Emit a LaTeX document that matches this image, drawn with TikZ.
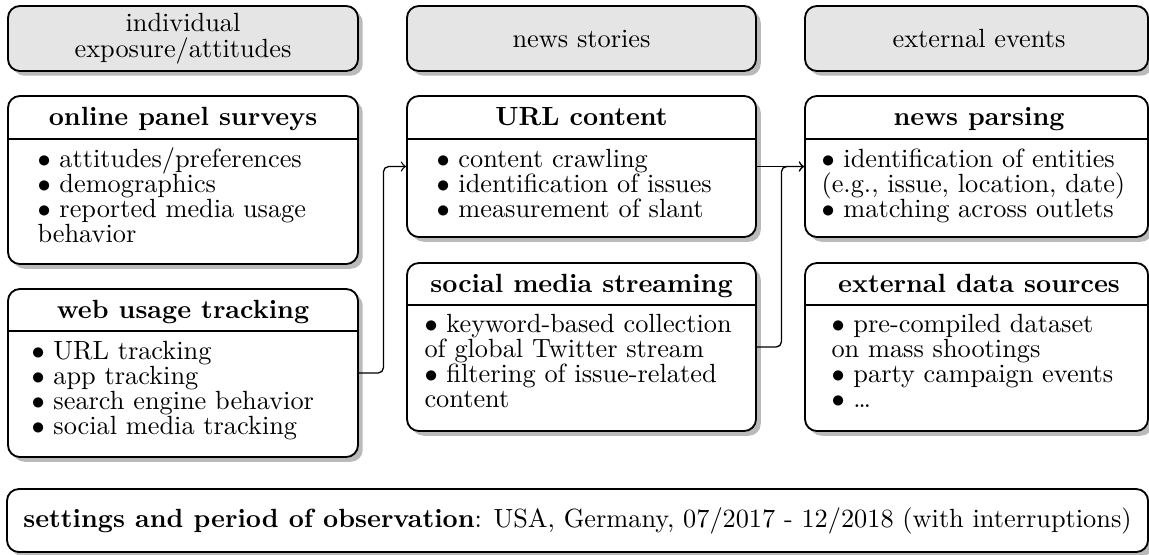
\documentclass[tikz,border=0pt]{standalone}
\usetikzlibrary{shadows,fit}
\begin{document}
\begin{tikzpicture}[x=0.38pt,y=-0.38pt,
  card/.style={draw, line width=0.7pt, rounded corners=4.5pt, fill=white,
    inner sep=0pt,
    drop shadow={shadow xshift=1.8pt, shadow yshift=-1.8pt, fill=black!27, opacity=1}},
  headcard/.style={card, fill=black!10},
  divider/.style={line width=0.6pt},
  headtext/.style={font=\fontsize{10}{9.8}\selectfont, align=center, inner sep=0pt},
  titletext/.style={font=\bfseries\fontsize{10}{10.3}\selectfont, anchor=base, inner sep=0pt},
  bodytext/.style={font=\fontsize{10}{9.5}\selectfont, anchor=base west, inner sep=0pt,
    text width=130pt, align=left},
  conn/.style={->, line width=0.5pt, rounded corners=2pt}]
\useasboundingbox (0,0) rectangle (1149,554);

% column headers
\node[headcard, fit={(8,6) (358,71)}] (h1) {};
\node[headcard, fit={(407,6) (756,71)}] (h2) {};
\node[headcard, fit={(805,6) (1148,71)}] (h3) {};
\node[headtext] (h1t) at (183,39) {individual\\exposure/attitudes};
\node[headtext] (h2t) at (581.5,39) {news stories};
\node[headtext] (h3t) at (979,39) {external events};

% method cards
\node[card, fit={(8,96) (358,264)}] (ops) {};
\node[card, fit={(8,289) (358,457)}] (wut) {};
\node[card, fit={(407,96) (756,237)}] (url) {};
\node[card, fit={(407,263) (756,431)}] (sms) {};
\node[card, fit={(805,96) (1148,237)}] (np) {};
\node[card, fit={(805,263) (1148,431)}] (eds) {};

% title separators
\draw[divider] (8,139) -- (358,139);
\draw[divider] (8,331) -- (358,331);
\draw[divider] (407,139) -- (756,139);
\draw[divider] (407,305) -- (756,305);
\draw[divider] (805,139) -- (1148,139);
\draw[divider] (805,305) -- (1148,305);

% titles
\node[titletext] (opst) at (183,125) {online panel surveys};
\node[titletext] (wutt) at (183,318) {web usage tracking};
\node[titletext] (urlt) at (581.5,125) {URL content};
\node[titletext] (smst) at (581.5,292) {social media streaming};
\node[titletext] (npt) at (979,125) {news parsing};
\node[titletext] (edst) at (979,292) {external data sources};

% card contents
\node[bodytext] (opsb) at (37,167) {$\bullet$ attitudes/preferences\\ $\bullet$ demographics\\ $\bullet$ reported media usage\\ behavior};
\node[bodytext] (wutb) at (31,359) {$\bullet$ URL tracking\\ $\bullet$ app tracking\\ $\bullet$ search engine behavior\\ $\bullet$ social media tracking};
\node[bodytext] (urlb) at (436,167) {$\bullet$ content crawling\\ $\bullet$ identification of issues\\ $\bullet$ measurement of slant};
\node[bodytext] (smsb) at (424,332) {$\bullet$ keyword-based collection\\ of global Twitter stream\\ $\bullet$ filtering of issue-related\\ content};
\node[bodytext] (npb) at (821,167) {$\bullet$ identification of entities\\ (e.g., issue, location, date)\\ $\bullet$ matching across outlets};
\node[bodytext] (edsb) at (831,332) {$\bullet$ pre-compiled dataset\\ on mass shootings\\ $\bullet$ party campaign events\\ $\bullet$ \ldots};

% data flow
\draw[conn] (wut.east) -- ++(24.5,0) |- (url.west);
\draw[conn] (url.east) -- (np.west);
\draw[conn] (sms.east) -- ++(24.5,0) |- (np.west);

% settings footer
\node[card, fit={(7,489) (1148,552)}] (foot) {};
\node[font=\fontsize{10}{10.3}\selectfont, inner sep=0pt] (foott) at (577.5,521)
  {\textbf{settings and period of observation}: USA, Germany, 07/2017 - 12/2018 (with interruptions)};
\end{tikzpicture}
\end{document}
